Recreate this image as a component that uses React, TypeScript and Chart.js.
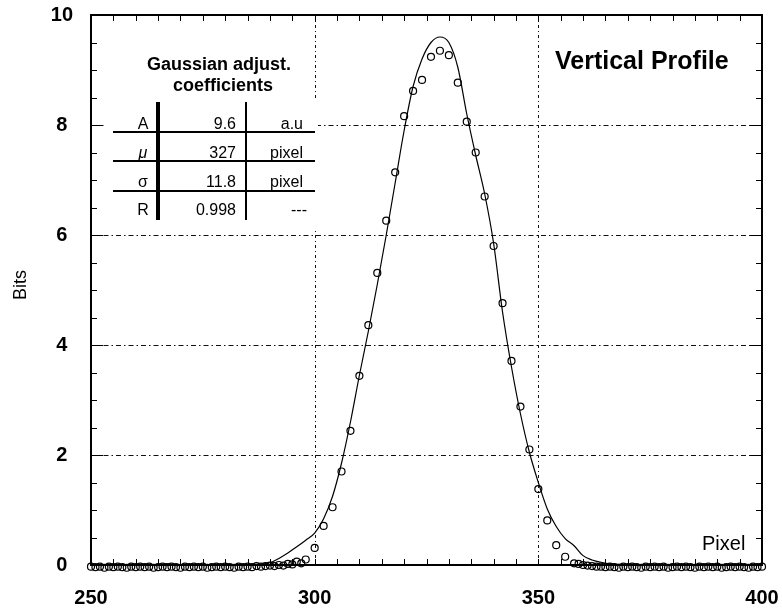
import React, { useEffect, useRef } from "react";
import { Chart, registerables } from "chart.js";

Chart.register(...registerables);

const FONT = '"Liberation Sans", Arial, Helvetica, sans-serif';

// Axis ticks / grid
const X_MIN = 250;
const X_MAX = 400;
const X_STEP = 50;
const Y_MIN = 0;
const Y_MAX = 10;
const Y_STEP = 2;
const GRID_X = [300, 350];
const GRID_Y = [2, 4, 6, 8];

// Measured profile (peak region, every 2 pixels)
const peakX = [300, 302, 304, 306, 308, 310, 312, 314, 316, 318, 320, 322, 324, 326, 328, 330, 332, 334, 336, 338, 340, 342, 344, 346, 348, 350, 352, 354, 356, 358];
const peakY = [0.31, 0.71, 1.05, 1.7, 2.44, 3.44, 4.36, 5.31, 6.26, 7.14, 8.16, 8.62, 8.82, 9.24, 9.35, 9.27, 8.77, 8.06, 7.5, 6.7, 5.8, 4.76, 3.71, 2.88, 2.1, 1.38, 0.81, 0.36, 0.15, 0.03];

// Measured profile (left baseline, every pixel)
const leftX = [250, 251, 252, 253, 254, 255, 256, 257, 258, 259, 260, 261, 262, 263, 264, 265, 266, 267, 268, 269, 270, 271, 272, 273, 274, 275, 276, 277, 278, 279, 280, 281, 282, 283, 284, 285, 286, 287, 288, 289, 290, 291, 292, 293, 294, 295, 296, 297, 298];
const leftY = [
  -0.03, -0.04, -0.03, -0.05, -0.03, -0.04, -0.03, -0.04, -0.05, -0.03,
  -0.04, -0.03, -0.04, -0.03, -0.05, -0.04, -0.03, -0.04, -0.03, -0.04,
  -0.05, -0.03, -0.04, -0.03, -0.04, -0.03, -0.05, -0.04, -0.03, -0.04,
  -0.03, -0.04, -0.05, -0.03, -0.04, -0.03, -0.04, -0.02, -0.03, -0.02,
  -0.01, -0.02, 0.0, -0.01, 0.02, 0.01, 0.06, 0.03, 0.1,
];

// Measured profile (right baseline, every pixel)
const rightX = [359, 360, 361, 362, 363, 364, 365, 366, 367, 368, 369, 370, 371, 372, 373, 374, 375, 376, 377, 378, 379, 380, 381, 382, 383, 384, 385, 386, 387, 388, 389, 390, 391, 392, 393, 394, 395, 396, 397, 398, 399, 400];
const rightY = [
  0.02, 0.0, -0.01, -0.02, -0.03, -0.03, -0.04, -0.03, -0.04, -0.05,
  -0.03, -0.04, -0.03, -0.04, -0.05, -0.03, -0.04, -0.03, -0.04, -0.03,
  -0.05, -0.04, -0.03, -0.04, -0.03, -0.04, -0.05, -0.03, -0.04, -0.03,
  -0.04, -0.03, -0.05, -0.04, -0.03, -0.04, -0.03, -0.04, -0.05, -0.03,
  -0.04, -0.03,
];

// Gaussian fit curve
const curveX = [284, 287, 290, 292, 294, 296, 298, 300, 302, 304, 306, 308, 310, 312, 314, 316, 318, 320, 322, 324, 326, 328, 330, 332, 334, 336, 338, 340, 342, 344, 346, 348, 350, 352, 354, 356, 358, 360, 362, 364, 366, 368, 371];
const curveY = [0.0, 0.01, 0.04, 0.12, 0.22, 0.33, 0.45, 0.58, 0.84, 1.25, 1.85, 2.6, 3.45, 4.25, 5.1, 6.0, 6.95, 7.9, 8.7, 9.2, 9.5, 9.6, 9.5, 9.05, 8.2, 7.45, 6.75, 5.85, 4.6, 3.6, 2.75, 2.05, 1.5, 1.02, 0.7, 0.48, 0.35, 0.17, 0.09, 0.05, 0.02, 0.01, 0.0];

// Coefficient table
const tableTitle = ["Gaussian adjust.", "coefficients"];
const tableNames = ["A", "\u03bc", "\u03c3", "R"];
const tableValues = ["9.6", "327", "11.8", "0.998"];
const tableUnits = ["a.u", "pixel", "pixel", "---"];

const overlay = {
  id: "overlay",
  beforeDatasetsDraw(chart: any) {
    const { ctx, chartArea: a, scales } = chart;
    const xs = scales.x;
    const ys = scales.y;
    ctx.save();
    ctx.strokeStyle = "#111";
    ctx.lineWidth = 1;
    ctx.setLineDash([5, 3, 1.5, 3]);
    GRID_Y.forEach((v) => {
      const py = Math.round(ys.getPixelForValue(v)) + 0.5;
      ctx.beginPath();
      ctx.moveTo(a.left, py);
      ctx.lineTo(a.right, py);
      ctx.stroke();
    });
    ctx.setLineDash([3, 3, 1, 3]);
    GRID_X.forEach((v) => {
      const px = Math.round(xs.getPixelForValue(v)) + 0.5;
      ctx.beginPath();
      ctx.moveTo(px, a.top);
      ctx.lineTo(px, a.bottom);
      ctx.stroke();
    });
    ctx.setLineDash([]);
    // white box behind the table
    ctx.fillStyle = "#fff";
    ctx.fillRect(a.left + 13, a.top + 83, 214, 131);
    ctx.restore();
  },
  afterDraw(chart: any) {
    const { ctx, chartArea: a, scales } = chart;
    const xs = scales.x;
    const ys = scales.y;
    ctx.save();
    ctx.strokeStyle = "#000";
    ctx.fillStyle = "#000";

    // ticks
    ctx.lineWidth = 1;
    for (let v = X_MIN; v <= X_MAX; v += 5) {
      const px = Math.round(xs.getPixelForValue(v)) + 0.5;
      ctx.beginPath();
      ctx.moveTo(px, a.bottom);
      ctx.lineTo(px, a.bottom - 6);
      ctx.moveTo(px, a.top);
      ctx.lineTo(px, a.top + 6);
      ctx.stroke();
    }
    for (let v = Y_MIN; v <= Y_MAX; v += 0.5) {
      const py = Math.round(ys.getPixelForValue(v)) + 0.5;
      const len = v % 2 === 0 ? 12 : 6;
      ctx.beginPath();
      ctx.moveTo(a.left, py);
      ctx.lineTo(a.left + len, py);
      ctx.moveTo(a.right, py);
      ctx.lineTo(a.right - len, py);
      ctx.stroke();
    }

    // frame
    ctx.lineWidth = 2;
    ctx.strokeRect(a.left, a.top, a.right - a.left, a.bottom - a.top);

    // table
    const L = a.left;
    const T = a.top;
    ctx.textBaseline = "middle";
    ctx.textAlign = "center";
    ctx.font = `bold 18px ${FONT}`;
    ctx.fillText(tableTitle[0], L + 128, T + 50);
    ctx.fillText(tableTitle[1], L + 132, T + 71);

    ctx.fillRect(L + 65, T + 87, 4, 118);
    ctx.fillRect(L + 154, T + 87, 2, 118);
    [116, 145, 175].forEach((dy) => ctx.fillRect(L + 22, T + dy, 202, 2));

    const rowY = [110, 139, 168, 196];
    tableNames.forEach((n, i) => {
      ctx.textAlign = "center";
      ctx.font = i === 1 ? `italic 16px ${FONT}` : `16px ${FONT}`;
      ctx.fillText(n, L + 52, T + rowY[i]);
      ctx.font = `16px ${FONT}`;
      ctx.textAlign = "right";
      ctx.fillText(tableValues[i], L + 145, T + rowY[i]);
      ctx.fillText(tableUnits[i], L + (i === 3 ? 216 : 212), T + rowY[i]);
    });

    // title inside plot
    ctx.textAlign = "left";
    ctx.font = `bold 25px ${FONT}`;
    ctx.fillText("Vertical Profile", 555, 62);

    // axis captions
    ctx.font = `20px ${FONT}`;
    ctx.fillText("Pixel", 702, 544);

    ctx.save();
    ctx.translate(21, 285);
    ctx.rotate(-Math.PI / 2);
    ctx.textAlign = "center";
    ctx.font = `18px ${FONT}`;
    ctx.fillText("Bits", 0, 0);
    ctx.restore();

    ctx.restore();
  },
};

export default function App() {
  const ref = useRef<HTMLCanvasElement | null>(null);

  useEffect(() => {
    if (!ref.current) return;
    const points = [
      ...leftX.map((x, i) => ({ x, y: leftY[i] })),
      ...peakX.map((x, i) => ({ x, y: peakY[i] })),
      ...rightX.map((x, i) => ({ x, y: rightY[i] })),
    ];
    const curve = curveX.map((x, i) => ({ x, y: curveY[i] }));
    const tickFont = { family: FONT, size: 20, weight: "bold" as const };

    const chart = new Chart(ref.current, {
      type: "scatter",
      data: {
        datasets: [
          {
            label: "Gaussian fit",
            data: curve,
            showLine: true,
            pointRadius: 0,
            borderColor: "#000",
            borderWidth: 1.2,
            cubicInterpolationMode: "monotone",
            fill: false,
            clip: false,
          } as any,
          {
            label: "Profile",
            data: points,
            showLine: false,
            pointStyle: "circle",
            pointRadius: 3.5,
            borderColor: "#000",
            backgroundColor: "rgba(255,255,255,0)",
            borderWidth: 1.2,
            clip: false,
          } as any,
        ],
      },
      options: {
        responsive: false,
        animation: false,
        devicePixelRatio: 1,
        layout: { padding: { left: 0, right: 20, top: 15, bottom: 0 } },
        plugins: {
          legend: { display: false },
          tooltip: { enabled: false },
        },
        scales: {
          x: {
            type: "linear",
            position: "bottom",
            min: X_MIN,
            max: X_MAX,
            ticks: {
              stepSize: X_STEP,
              color: "#000",
              font: tickFont,
              padding: 21,
              maxRotation: 0,
              autoSkip: false,
            },
            grid: { display: false, drawTicks: false },
            border: { display: false },
            afterFit: (s: any) => {
              s.height = 48;
              s.paddingLeft = 0;
              s.paddingRight = 0;
            },
          },
          y: {
            type: "linear",
            min: Y_MIN,
            max: Y_MAX,
            ticks: {
              stepSize: Y_STEP,
              color: "#000",
              font: tickFont,
              padding: 18,
              crossAlign: "center",
            },
            grid: { display: false, drawTicks: false },
            border: { display: false },
            afterFit: (s: any) => {
              s.width = 91;
              s.paddingTop = 0;
              s.paddingBottom = 0;
            },
          },
        },
      } as any,
      plugins: [overlay],
    });
    return () => chart.destroy();
  }, []);

  return (
    <div style={{ position: "fixed", left: 0, top: 0, width: 782, height: 613, background: "#fff" }}>
      <canvas ref={ref} width={782} height={613} style={{ display: "block" }} />
    </div>
  );
}
